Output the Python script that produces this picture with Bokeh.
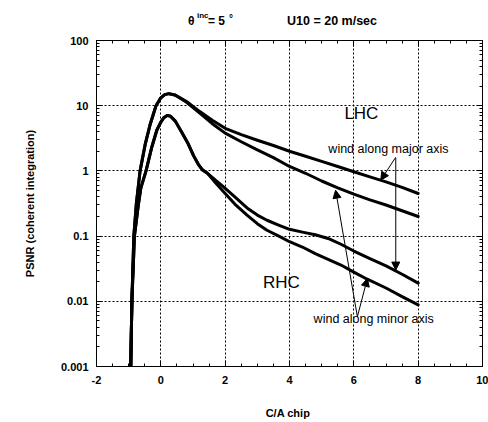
import math
from bokeh.plotting import figure
from bokeh.layouts import column
from bokeh.models import (FixedTicker, LinearAxis, LogAxis, Label, Arrow, NormalHead,
                          CustomJSTickFormatter, Range1d, Div)
from bokeh.embed import file_html
from bokeh.resources import INLINE

# ---------------- data ----------------
x_ticks = [-2, 0, 2, 4, 6, 8, 10]
y_ticks = [0.001, 0.01, 0.1, 1, 10, 100]

lhc_major_x = [-0.935, -0.90, -0.84, -0.76, -0.645, -0.49, -0.33, -0.15, 0.0, 0.12, 0.25, 0.45,
               0.8, 1.2, 1.6, 2.0, 2.5, 3.0, 3.5, 4.0, 4.5, 5.0, 5.5, 6.0, 6.5, 7.0, 7.5, 8.0]
lhc_major_y = [0.001, 0.01, 0.1, 0.32, 1.0, 2.5, 5.2, 10.0, 13.2, 14.8, 15.3, 14.6,
               11.6, 8.2, 6.0, 4.5, 3.6, 2.95, 2.45, 2.0, 1.68, 1.4, 1.17, 0.97, 0.81, 0.68, 0.56, 0.45]

lhc_minor_x = [-0.935, -0.90, -0.84, -0.76, -0.645, -0.49, -0.33, -0.15, 0.0, 0.12, 0.25, 0.45,
               0.8, 1.2, 1.6, 2.0, 2.5, 3.0, 3.5, 4.0, 4.5, 5.0, 5.5, 6.0, 6.5, 7.0, 7.5, 8.0]
lhc_minor_y = [0.001, 0.01, 0.1, 0.32, 1.0, 2.5, 5.2, 10.0, 13.2, 14.8, 15.3, 14.5,
               11.3, 7.8, 5.3, 3.8, 2.8, 2.1, 1.6, 1.17, 0.92, 0.70, 0.55, 0.44, 0.36, 0.30, 0.245, 0.20]

rhc_major_x = [-0.935, -0.90, -0.82, -0.70, -0.62, -0.46, -0.28, -0.125, 0.0, 0.1, 0.2, 0.3, 0.45,
               0.65, 0.85, 1.02, 1.17, 1.3, 1.45, 1.7, 1.95, 2.3, 2.68, 3.0, 3.3, 3.7, 4.0, 4.4,
               4.8, 5.2, 5.6, 6.0, 6.5, 7.0, 7.5, 8.0]
rhc_major_y = [0.001, 0.01, 0.1, 0.3, 0.55, 1.0, 2.33, 4.2, 5.6, 6.6, 7.1, 6.9, 5.8,
               3.9, 2.6, 1.7, 1.25, 1.03, 0.92, 0.72, 0.57, 0.40, 0.27, 0.21, 0.175, 0.145, 0.127, 0.115,
               0.105, 0.092, 0.075, 0.059, 0.045, 0.035, 0.026, 0.019]

rhc_minor_x = [-0.935, -0.90, -0.82, -0.70, -0.62, -0.46, -0.28, -0.125, 0.0, 0.1, 0.2, 0.3, 0.45,
               0.65, 0.85, 1.02, 1.17, 1.3, 1.45, 1.7, 1.95, 2.3, 2.68, 3.0, 3.3, 3.7, 4.0, 4.4,
               4.8, 5.2, 5.6, 6.0, 6.4, 7.0, 7.5, 8.0]
rhc_minor_y = [0.001, 0.01, 0.1, 0.3, 0.55, 1.0, 2.33, 4.2, 5.6, 6.6, 7.1, 6.9, 5.8,
               3.9, 2.6, 1.7, 1.25, 1.03, 0.92, 0.66, 0.48, 0.31, 0.21, 0.155, 0.123, 0.098, 0.082, 0.068,
               0.054, 0.044, 0.036, 0.028, 0.022, 0.016, 0.0118, 0.0088]

title_theta = "\u03b8"
title_sup = "inc"
title_eq = "= 5"
title_deg = "\u00b0"
title_wind = "U10 = 20 m/sec"
x_label = "C/A  chip"
y_label = "PSNR (coherent integration)"

FONT = "Liberation Sans"

# ---------------- title (HTML, for the true superscript) ----------------
def span(text, left, top, size, lh):
    return ('<span style="position:absolute;white-space:pre;left:%dpx;top:%dpx;'
            'font-size:%spx;line-height:%dpx;">%s</span>' % (left, top, size, lh, text))

title_html = ('<div style="position:relative;width:488px;height:32px;font-family:\'%s\';'
              'font-weight:bold;color:black;">' % FONT
              + span(title_theta, 188, 14, 12, 14)
              + span(title_sup, 197, 11, 8, 10)
              + span(title_eq, 208, 14, 12, 14)
              + span(title_deg, 229, 13, 10, 12)
              + span(title_wind, 287, 14, 12.5, 14)
              + '</div>')
title_div = Div(text=title_html, width=488, height=32, margin=0)

# ---------------- figure ----------------
p = figure(width=488, height=390, x_range=Range1d(-2, 10), y_range=Range1d(0.001, 100),
           y_axis_type="log", output_backend="svg", toolbar_location=None,
           min_border_left=96, min_border_right=6, min_border_top=8, min_border_bottom=56,
           margin=0)
p.background_fill_color = "white"
p.border_fill_color = "white"
p.outline_line_color = "black"
p.outline_line_width = 1

x_minor = [-2 + 0.5 * i for i in range(25)]
y_minor = [m * 10 ** e for e in range(-3, 2) for m in range(2, 10)]
xt = FixedTicker(ticks=x_ticks, minor_ticks=x_minor)
yt = FixedTicker(ticks=y_ticks, minor_ticks=y_minor)
fmt = CustomJSTickFormatter(code="return tick.toString();")
blank = CustomJSTickFormatter(code="return '';")


def style_axis(ax):
    ax.axis_line_color = "black"
    ax.axis_line_width = 1
    ax.major_tick_line_color = "black"
    ax.minor_tick_line_color = "black"
    ax.major_tick_in = 6
    ax.major_tick_out = 0
    ax.minor_tick_in = 3
    ax.minor_tick_out = 0
    ax.major_label_text_font = FONT
    ax.major_label_text_font_style = "bold"
    ax.major_label_text_color = "black"
    ax.major_label_text_font_size = "11px"


p.xaxis.ticker = xt
p.yaxis.ticker = yt
p.xaxis.formatter = fmt
p.yaxis.formatter = fmt
style_axis(p.xaxis[0])
style_axis(p.yaxis[0])
p.xaxis.major_label_standoff = 9
p.yaxis.major_label_standoff = 8

p.xaxis.axis_label = x_label
p.yaxis.axis_label = y_label
for ax in (p.xaxis[0], p.yaxis[0]):
    ax.axis_label_text_font = FONT
    ax.axis_label_text_font_style = "bold"
    ax.axis_label_text_font_size = "11px"
    ax.axis_label_text_color = "black"
p.xaxis.axis_label_standoff = 20
p.yaxis.axis_label_standoff = 22

top_ax = LinearAxis(ticker=xt, formatter=blank)
style_axis(top_ax)
top_ax.major_label_standoff = 0
right_ax = LogAxis(ticker=yt, formatter=blank)
style_axis(right_ax)
right_ax.major_label_standoff = 0
p.add_layout(top_ax, "above")
p.add_layout(right_ax, "right")

p.grid.grid_line_color = "black"
p.grid.grid_line_dash = "2 2"
p.grid.grid_line_width = 1
p.xgrid.ticker = xt
p.ygrid.ticker = yt

for xs, ys in ((lhc_major_x, lhc_major_y), (lhc_minor_x, lhc_minor_y),
               (rhc_major_x, rhc_major_y), (rhc_minor_x, rhc_minor_y)):
    p.line(xs, ys, line_width=3, line_color="black", line_join="round", line_cap="round")

# ---------------- annotations (positions from reference pixels) ----------------
X0, X1 = 96.5, 481.5      # page px of x=-2 and x=10
YT, YB = 40.2, 366.5      # page px of y=100 and y=0.001


def dx(px):
    return -2 + (px - X0) * 12.0 / (X1 - X0)


def dy(py):
    return 10 ** (2 - (py - YT) * 5.0 / (YB - YT))


def add_label(text, px, py, size, style="normal", align="center", baseline="middle"):
    p.add_layout(Label(x=dx(px), y=dy(py), text=text, text_font=FONT, text_font_size=size,
                       text_font_style=style, text_color="black", text_align=align,
                       text_baseline=baseline))


add_label("LHC", 360.7, 113.3, "17px")
add_label("RHC", 281, 282.3, "17px")
add_label("wind along major axis", 387.7, 149, "12.5px")
add_label("wind along minor axis", 373, 319, "12.5px")

arrows = [((395, 157), (380, 180)), ((395, 158), (395, 270)),
          ((356.7, 316.7), (335, 190)), ((356.7, 316.7), (366.7, 278.3))]
for (sx, sy), (ex, ey) in arrows:
    p.add_layout(Arrow(end=NormalHead(size=8, fill_color="black", line_color="black", line_width=1),
                       x_start=dx(sx), y_start=dy(sy), x_end=dx(ex), y_end=dy(ey),
                       line_color="black", line_width=1))

layout = column(title_div, p, spacing=0, margin=0)
open("out.html", "w").write(file_html(layout, INLINE))
